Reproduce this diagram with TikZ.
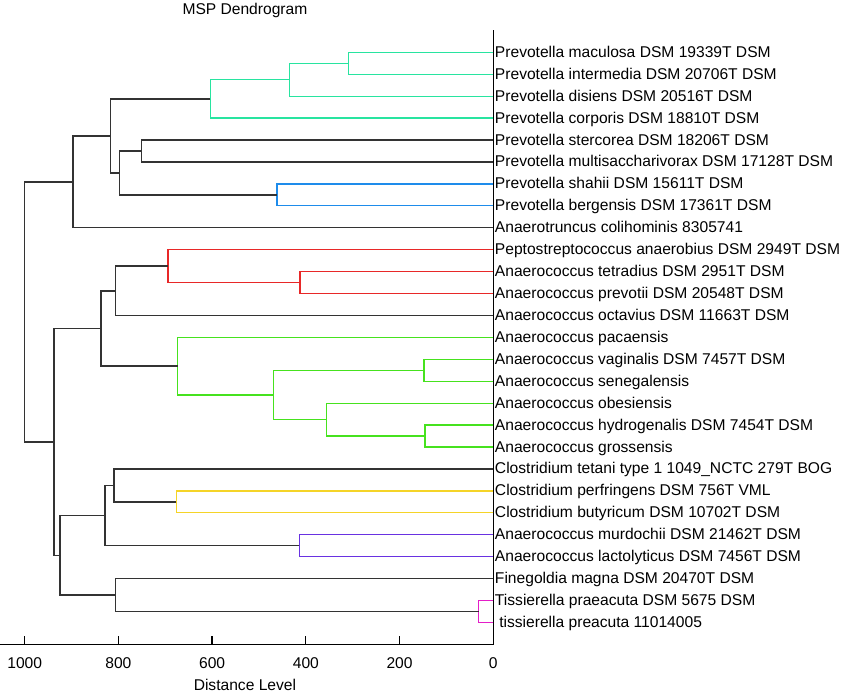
\documentclass[tikz,border=0pt]{standalone}
\usepackage{fontspec}
\setmainfont{Liberation Sans}
\usepackage{tikz}
\usetikzlibrary{calc}
\usetikzlibrary{positioning}

\definecolor{mspteal}{RGB}{40,228,160}
\definecolor{mspblue}{RGB}{30,140,235}
\definecolor{mspred}{RGB}{232,40,40}
\definecolor{mspgreen}{RGB}{70,226,30}
\definecolor{mspyellow}{RGB}{245,212,40}
\definecolor{msppurple}{RGB}{105,50,225}
\definecolor{mspmagenta}{RGB}{228,30,200}

\begin{document}
\begin{tikzpicture}[x={(-0.4686pt,0)}, y={(0,-21.93pt)},
    font=\fontsize{15.6}{18}\selectfont,
    branch/.style={line width=1.5pt, black!80},
    leaflabel/.style={anchor=west, inner sep=1.5pt, text height=10pt, text depth=0pt}]

        \useasboundingbox (1052.7,-1.385) rectangle (-752.7,30.31);

        % title and axis
        \node (title) at (530,-0.93) {MSP Dendrogram};
        \coordinate (axtop) at (0,0);
        \coordinate (axzero) at (0,28);
        \coordinate (axleft) at (1052.7,28);
        \draw[line width=1.3pt] (axtop) -- (axzero) -- (axleft);
        \foreach \d in {0,200,400,600,800,1000} {
            \draw[line width=1.3pt] (\d,28) -- ++(0,-0.37);
            \node (tick\d) at (\d,28.85) {\d};
        }
        \node (xlabel) at (530,29.85) {Distance Level};

        % leaves
        \foreach \i/\name in {1/Prevotella maculosa DSM 19339T DSM,
            2/Prevotella intermedia DSM 20706T DSM,
            3/Prevotella disiens DSM 20516T DSM,
            4/Prevotella corporis DSM 18810T DSM,
            5/Prevotella stercorea DSM 18206T DSM,
            6/Prevotella multisaccharivorax DSM 17128T DSM,
            7/Prevotella shahii DSM 15611T DSM,
            8/Prevotella bergensis DSM 17361T DSM,
            9/Anaerotruncus colihominis 8305741,
            10/Peptostreptococcus anaerobius DSM 2949T DSM,
            11/Anaerococcus tetradius DSM 2951T DSM,
            12/Anaerococcus prevotii DSM 20548T DSM,
            13/Anaerococcus octavius DSM 11663T DSM,
            14/Anaerococcus pacaensis,
            15/Anaerococcus vaginalis DSM 7457T DSM,
            16/Anaerococcus senegalensis,
            17/Anaerococcus obesiensis,
            18/Anaerococcus hydrogenalis DSM 7454T DSM,
            19/Anaerococcus grossensis,
            20/Clostridium tetani type 1 1049\_NCTC 279T BOG,
            21/Clostridium perfringens DSM 756T VML,
            22/Clostridium butyricum DSM 10702T DSM,
            23/Anaerococcus murdochii DSM 21462T DSM,
            24/Anaerococcus lactolyticus DSM 7456T DSM,
            25/Finegoldia magna DSM 20470T DSM,
            26/Tissierella praeacuta DSM 5675 DSM,
            27/\ tissierella preacuta 11014005} {
            \coordinate (l\i) at (0,\i);
            \node[leaflabel] (name\i) at (l\i) {\name};
        }

        % merge points
        \coordinate (g12) at (308.6,1.5);
        \coordinate (g13) at (435.3,2.25);
        \coordinate (g14) at (604,3.125);
        \coordinate (k56) at (751,5.5);
        \coordinate (b78) at (461.6,7.5);
        \coordinate (k58) at (798,6.5);
        \coordinate (k18) at (816.5,4.8125);
        \coordinate (k19) at (897,6.906);
        \coordinate (r1112) at (412.5,11.5);
        \coordinate (r1012) at (694,10.75);
        \coordinate (k1013) at (806,11.875);
        \coordinate (v1516) at (148,15.5);
        \coordinate (v1819) at (146,18.5);
        \coordinate (v1719) at (355.5,17.75);
        \coordinate (v1519) at (469.5,16.625);
        \coordinate (v1419) at (673.5,15.3125);
        \coordinate (k1019) at (837,13.594);
        \coordinate (y2122) at (676.5,21.5);
        \coordinate (k2022) at (809,20.75);
        \coordinate (u2324) at (414,23.5);
        \coordinate (k2024) at (828.6,22.125);
        \coordinate (m2627) at (31,26.5);
        \coordinate (k2527) at (806,25.75);
        \coordinate (k2027) at (925,23.9375);
        \coordinate (k1027) at (937.5,18.766);
        \coordinate (root) at (1000,12.836);

        % coloured clusters
        \foreach \a/\b/\c in {l1/g12/mspteal, l2/g12/mspteal, g12/g13/mspteal, l3/g13/mspteal,
            g13/g14/mspteal, l4/g14/mspteal, l7/b78/mspblue, l8/b78/mspblue,
            l11/r1112/mspred, l12/r1112/mspred, l10/r1012/mspred, r1112/r1012/mspred,
            l15/v1516/mspgreen, l16/v1516/mspgreen, l18/v1819/mspgreen, l19/v1819/mspgreen,
            l17/v1719/mspgreen, v1819/v1719/mspgreen, v1516/v1519/mspgreen, v1719/v1519/mspgreen,
            l14/v1419/mspgreen, v1519/v1419/mspgreen,
            l21/y2122/mspyellow, l22/y2122/mspyellow, l23/u2324/msppurple, l24/u2324/msppurple,
            l26/m2627/mspmagenta, l27/m2627/mspmagenta} {
            \draw[line width=1.3pt, \c] (\a) -| (\b);
        }

        % black links
        \foreach \a/\b in {l5/k56, l6/k56, k56/k58, b78/k58, g14/k18, k58/k18, k18/k19, l9/k19,
            r1012/k1013, l13/k1013, k1013/k1019, v1419/k1019,
            l20/k2022, y2122/k2022, k2022/k2024, u2324/k2024, l25/k2527, m2627/k2527,
            k2024/k2027, k2527/k2027, k1019/k1027, k2027/k1027, k19/root, k1027/root} {
            \draw[branch] (\a) -| (\b);
        }

    \end{tikzpicture}
\end{document}
